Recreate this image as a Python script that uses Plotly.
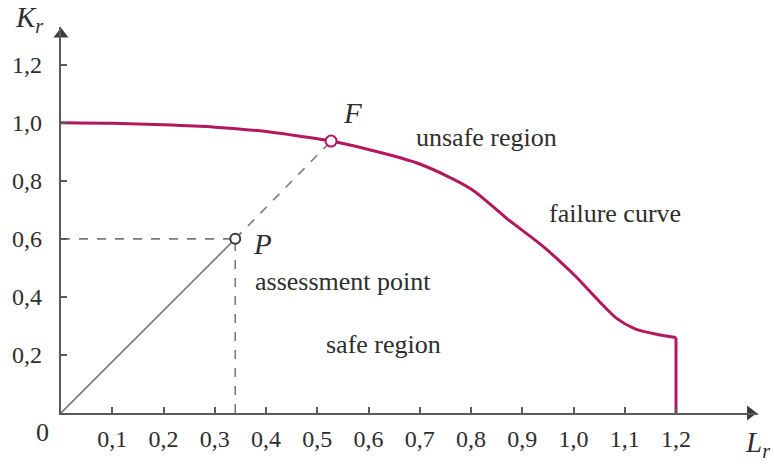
import plotly.graph_objects as go

# Failure assessment diagram: failure curve Kr vs Lr
curve_lr = [0.0, 0.1, 0.2, 0.3, 0.4, 0.45, 0.527, 0.6, 0.7, 0.8, 0.87, 0.94, 1.0, 1.085, 1.12, 1.16, 1.2]
curve_kr = [1.0, 0.998, 0.993, 0.985, 0.97, 0.958, 0.937, 0.908, 0.858, 0.772, 0.67, 0.575, 0.478, 0.325, 0.29, 0.272, 0.26]
cutoff_lr = [1.2, 1.2]
cutoff_kr = [0.26, 0.0]

point_p = (0.34, 0.60)
point_f = (0.527, 0.937)

x_ticks = [0.1, 0.2, 0.3, 0.4, 0.5, 0.6, 0.7, 0.8, 0.9, 1.0, 1.1, 1.2]
y_ticks = [0.2, 0.4, 0.6, 0.8, 1.0, 1.2]

X_MAX = 1.36
Y_MAX = 1.33

CURVE = "#B3175E"
AXIS = "#5a5a5a"
ARROW = "#3a3a3a"
GUIDE = "#7a7a7a"
TEXT = "#2e2e2e"
SERIF = "Liberation Serif, Times New Roman, serif"

fig = go.Figure()

# load line from origin through P (solid), then on to F (dashed)
fig.add_trace(go.Scatter(x=[0, point_p[0]], y=[0, point_p[1]], mode="lines",
                         line=dict(color=GUIDE, width=1.6), hoverinfo="skip"))
fig.add_trace(go.Scatter(x=[point_p[0], point_f[0]], y=[point_p[1], point_f[1]], mode="lines",
                         line=dict(color=GUIDE, width=1.6, dash="dash"), hoverinfo="skip"))
# projections of P onto the axes
fig.add_trace(go.Scatter(x=[0, point_p[0]], y=[point_p[1], point_p[1]], mode="lines",
                         line=dict(color=GUIDE, width=1.6, dash="dash"), hoverinfo="skip"))
fig.add_trace(go.Scatter(x=[point_p[0], point_p[0]], y=[0, point_p[1]], mode="lines",
                         line=dict(color=GUIDE, width=1.6, dash="dash"), hoverinfo="skip"))

# failure curve and plastic collapse cut-off
fig.add_trace(go.Scatter(x=curve_lr, y=curve_kr, mode="lines",
                         line=dict(color=CURVE, width=3, shape="spline", smoothing=0.8)))
fig.add_trace(go.Scatter(x=cutoff_lr, y=cutoff_kr, mode="lines",
                         line=dict(color=CURVE, width=3)))

# marked points
fig.add_trace(go.Scatter(x=[point_f[0]], y=[point_f[1]], mode="markers",
                         marker=dict(size=11, color="white", line=dict(color=CURVE, width=2))))
fig.add_trace(go.Scatter(x=[point_p[0]], y=[point_p[1]], mode="markers",
                         marker=dict(size=10, color="white", line=dict(color="#3a3a3a", width=2))))

# arrowheads at the ends of both axes
fig.add_trace(go.Scatter(x=[0], y=[Y_MAX - 0.025], mode="markers", cliponaxis=False,
                         marker=dict(symbol="triangle-up", size=13, color=ARROW), hoverinfo="skip"))
fig.add_trace(go.Scatter(x=[X_MAX - 0.015], y=[0], mode="markers", cliponaxis=False,
                         marker=dict(symbol="triangle-right", size=13, color=ARROW), hoverinfo="skip"))

font_lbl = dict(family=SERIF, size=26, color=TEXT)
italic = dict(family=SERIF, size=29, color=TEXT)

# labels inside the plot area (data coordinates)
for x, y, t, f in [
    (0.568, 1.034, "<i>F</i>", italic),
    (0.393, 0.583, "<i>P</i>", italic),
    (0.831, 0.949, "unsafe region", font_lbl),
    (1.081, 0.688, "failure curve", font_lbl),
    (0.551, 0.454, "assessment point", font_lbl),
    (0.629, 0.237, "safe region", font_lbl),
]:
    fig.add_annotation(x=x, y=y, text=t, showarrow=False, font=f,
                       xanchor="center", yanchor="middle")

# origin and axis titles, outside the plot area (paper coordinates)
for x, y, t, f in [
    (-0.026, -0.051, "0", font_lbl),
    (-0.046, 1.02, "<i>K<sub>r</sub></i>", italic),
    (0.999, -0.08, "<i>L<sub>r</sub></i>", italic),
]:
    fig.add_annotation(x=x, y=y, xref="paper", yref="paper", text=t, showarrow=False, font=f,
                       xanchor="center", yanchor="middle")

fig.update_layout(
    width=774, height=464,
    margin=dict(l=60, r=16, t=27, b=46),
    paper_bgcolor="white", plot_bgcolor="white",
    showlegend=False,
    separators=",.",
    font=dict(family=SERIF, color=TEXT),
    xaxis=dict(range=[0, X_MAX], showgrid=False, zeroline=False, showline=True,
               linecolor=AXIS, linewidth=2.2, ticks="inside", ticklen=6, tickwidth=1.5,
               tickcolor=AXIS, tickvals=x_ticks, tickformat=".1f",
               tickfont=dict(family=SERIF, size=24, color=TEXT), ticklabelstandoff=3),
    yaxis=dict(range=[0, Y_MAX], showgrid=False, zeroline=False, showline=True,
               linecolor=AXIS, linewidth=2.2, ticks="inside", ticklen=6, tickwidth=1.5,
               tickcolor=AXIS, tickvals=y_ticks, tickformat=".1f",
               tickfont=dict(family=SERIF, size=24, color=TEXT), ticklabelstandoff=12),
)

fig.write_html("out.html")
